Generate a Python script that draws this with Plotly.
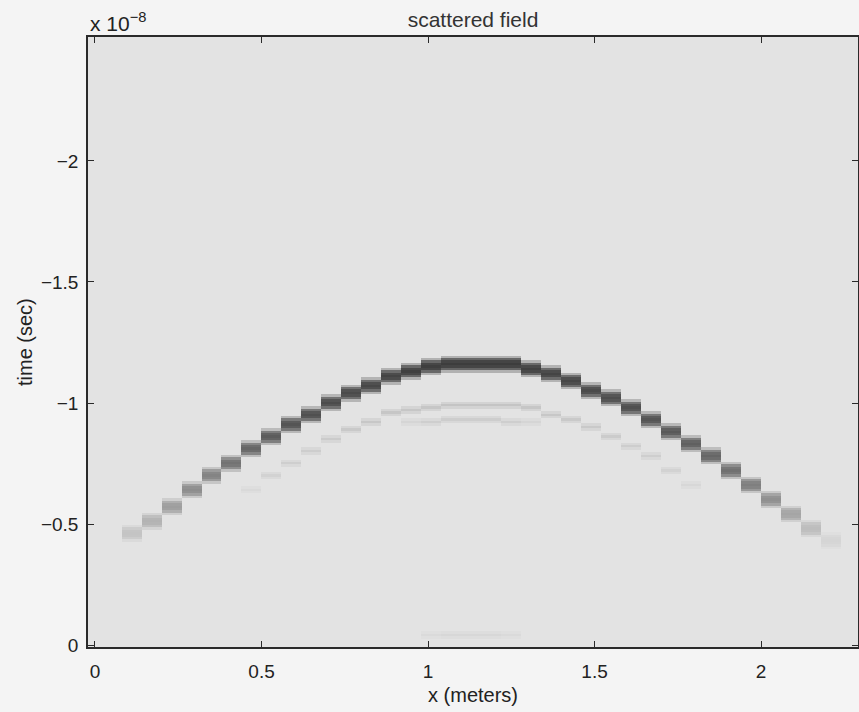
import numpy as np
import plotly.graph_objects as go

# ---------------- data ----------------
# main diffraction hyperbola: trace position (m), arrival time (x1e-8 s), amplitude
main_x = [0.11, 0.17, 0.23, 0.29, 0.35, 0.41, 0.47, 0.53, 0.59, 0.65, 0.71, 0.77,
          0.83, 0.89, 0.95, 1.01, 1.07, 1.13, 1.19, 1.25, 1.31, 1.37, 1.43, 1.49,
          1.55, 1.61, 1.67, 1.73, 1.79, 1.85, 1.91, 1.97, 2.03, 2.09, 2.15, 2.21]
main_t = [-0.462, -0.514, -0.571, -0.638, -0.698, -0.754, -0.806, -0.857, -0.907,
          -0.953, -0.998, -1.039, -1.074, -1.106, -1.130, -1.148, -1.156, -1.162,
          -1.163, -1.156, -1.141, -1.115, -1.086, -1.054, -1.017, -0.977, -0.930,
          -0.883, -0.834, -0.780, -0.722, -0.662, -0.601, -0.540, -0.483, -0.431]
main_amp = [0.18, 0.28, 0.40, 0.50, 0.55, 0.65, 0.72, 0.78, 0.82, 0.85, 0.87, 0.88,
            0.90, 0.92, 0.94, 0.95, 0.96, 0.96, 0.96, 0.96, 0.94, 0.92, 0.90, 0.88,
            0.86, 0.85, 0.82, 0.80, 0.76, 0.72, 0.66, 0.58, 0.48, 0.36, 0.22, 0.08]

# faint secondary echo (upper)
echo1_x = [0.47, 0.53, 0.59, 0.65, 0.71, 0.77, 0.83, 0.89, 0.95, 1.01, 1.07, 1.13,
           1.19, 1.25, 1.31, 1.37, 1.43, 1.49, 1.55, 1.61, 1.67, 1.73, 1.79]
echo1_t = [-0.640, -0.698, -0.752, -0.801, -0.847, -0.887, -0.923, -0.955, -0.966,
           -0.984, -0.989, -0.992, -0.993, -0.990, -0.979, -0.952, -0.927, -0.904,
           -0.865, -0.822, -0.778, -0.722, -0.657]
echo1_amp = [0.06, 0.10, 0.12, 0.13, 0.14, 0.15, 0.16, 0.17, 0.17, 0.17, 0.18, 0.18,
             0.18, 0.18, 0.17, 0.16, 0.15, 0.15, 0.14, 0.13, 0.12, 0.10, 0.07]

# faint secondary echo (lower, near apex)
echo2_x = [0.95, 1.01, 1.07, 1.13, 1.19, 1.25, 1.31]
echo2_t = [-0.915, -0.925, -0.930, -0.930, -0.930, -0.925, -0.915]
echo2_amp = [0.08, 0.12, 0.13, 0.13, 0.13, 0.12, 0.08]

# very faint late arrival near t = 0
echo3_x = [1.01, 1.07, 1.13, 1.19, 1.25]
echo3_t = [-0.045, -0.045, -0.045, -0.045, -0.045]
echo3_amp = [0.05, 0.07, 0.07, 0.07, 0.05]

x_ticks = [0, 0.5, 1, 1.5, 2]
x_tick_text = ["0", "0.5", "1", "1.5", "2"]
y_ticks = [0, -0.5, -1, -1.5, -2]
y_tick_text = ["0", "\u22120.5", "\u22121", "\u22121.5", "\u22122"]

# ---------------- image grid ----------------
dx = 0.06
dt = 0.01
x_centers = np.round(np.arange(-0.01, 2.30, dx), 3)
t_rows = np.round(np.arange(0.0, -2.53, -dt), 3)
z = np.zeros((len(t_rows), len(x_centers)))

main_kernel = [0.3, 0.75, 0.95, 1.0, 0.95, 0.75, 0.3]
echo_kernel = [0.5, 1.0, 0.5]


def deposit(xs, ts, amps, kernel):
    half = len(kernel) // 2
    for xv, tv, av in zip(xs, ts, amps):
        ci = int(round((xv - x_centers[0]) / dx))
        ri = int(round((t_rows[0] - tv) / dt))
        for k, w in enumerate(kernel):
            r = ri + k - half
            if 0 <= r < len(t_rows) and 0 <= ci < len(x_centers):
                z[r, ci] = max(z[r, ci], av * w)


deposit(main_x, main_t, main_amp, main_kernel)
deposit(echo1_x, echo1_t, echo1_amp, echo_kernel)
deposit(echo2_x, echo2_t, echo2_amp, echo_kernel)
deposit(echo3_x, echo3_t, echo3_amp, echo_kernel)

FONT = "Liberation Sans, Arial, Helvetica, sans-serif"
AX = "#2a2a2a"
TXT = "#222222"

fig = go.Figure(
    go.Heatmap(
        x=x_centers, y=t_rows, z=z,
        zmin=0, zmax=1,
        colorscale=[[0, "#e3e3e3"], [1, "#363636"]],
        showscale=False, hoverinfo="skip",
    )
)

fig.update_layout(
    width=859, height=712,
    margin=dict(l=88, r=1, t=37, b=65, autoexpand=False),
    paper_bgcolor="#f4f4f4",
    plot_bgcolor="#e3e3e3",
    font=dict(family=FONT, size=19, color=TXT),
    title=dict(text="scattered field", x=0.5, xref="paper", xanchor="center",
               y=1 - 20 / 712, yref="container", yanchor="middle",
               font=dict(size=21, family=FONT, color="#333333")),
    showlegend=False,
)

fig.update_xaxes(
    range=[-0.021, 2.291], automargin=False,
    tickvals=x_ticks, ticktext=x_tick_text,
    ticks="inside", ticklen=6, tickwidth=1.2, tickcolor=AX,
    showline=True, linewidth=1.5, linecolor=AX, mirror="ticks",
    showgrid=False, zeroline=False,
    ticklabelstandoff=6,
    tickfont=dict(size=19, family=FONT, color=TXT),
)
fig.update_yaxes(
    range=[0.008, -2.512], automargin=False,
    tickvals=y_ticks, ticktext=y_tick_text,
    ticks="inside", ticklen=6, tickwidth=1.2, tickcolor=AX,
    showline=True, linewidth=1.5, linecolor=AX, mirror="ticks",
    showgrid=False, zeroline=False,
    ticklabelstandoff=4,
    tickfont=dict(size=19, family=FONT, color=TXT),
)

fig.add_annotation(text="x (meters)", xref="paper", yref="paper",
                   x=0.5, y=-(695 - 647) / 610, xanchor="center", yanchor="middle",
                   showarrow=False, font=dict(size=20, family=FONT, color=TXT))
fig.add_annotation(text="time (sec)", xref="paper", yref="paper",
                   x=(25 - 88) / 770, y=0.5, xanchor="center", yanchor="middle",
                   textangle=-90, showarrow=False,
                   font=dict(size=20, family=FONT, color=TXT))
fig.add_annotation(text="x 10<sup>\u22128</sup>", xref="paper", yref="paper",
                   x=0, y=1 + (37 - 22) / 610, xanchor="left", yanchor="middle",
                   showarrow=False, font=dict(size=21, family=FONT, color=TXT))

fig.write_html("out.html",
               config={"displayModeBar": False},
               post_script="document.body.style.margin='0';"
                           "document.body.style.background='#f4f4f4';")
